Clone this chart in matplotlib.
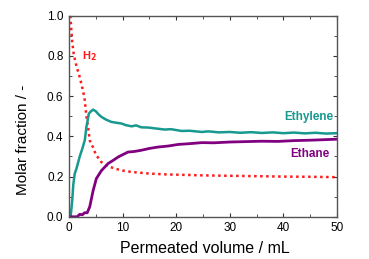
import matplotlib
matplotlib.use('agg')
import matplotlib.pyplot as plt
from matplotlib.ticker import MultipleLocator

plt.rcParams['font.family'] = ['Liberation Sans', 'DejaVu Sans']

# permeated volume (mL) and molar fractions
h2_x = [0.26, 0.4, 0.6, 0.88, 1.2, 1.5, 2.0, 2.5, 2.9, 3.25, 3.55, 3.87, 4.5, 5.0, 6.0,
        7.0, 8.5, 10, 11.7, 15, 18, 25, 30, 35, 40, 45, 50]
h2_y = [1.0, 0.94, 0.87, 0.81, 0.77, 0.74, 0.695, 0.64, 0.59, 0.50, 0.447, 0.38, 0.345,
        0.31, 0.273, 0.255, 0.24, 0.23, 0.223, 0.215, 0.211, 0.206, 0.204, 0.202, 0.200,
        0.199, 0.197]

eth_x = [0.3, 0.6, 0.8, 1.07, 1.4, 2.0, 2.5, 2.94, 3.25, 3.7, 4.1, 4.5, 5.0, 5.5, 6.06, 6.8,
         7.9, 8.8, 9.8, 10.6, 11.7, 12.5, 13.5, 14.8, 16, 17.9, 19, 21, 22.5, 24.8, 26,
         28, 30, 32, 34, 36, 38, 40, 42, 44, 46, 48, 50]
eth_y = [0.0, 0.08, 0.16, 0.215, 0.24, 0.30, 0.34, 0.38, 0.447, 0.513, 0.525, 0.533, 0.525,
         0.51, 0.497, 0.485, 0.472, 0.468, 0.464, 0.456, 0.45, 0.455, 0.445, 0.444, 0.44,
         0.434, 0.436, 0.427, 0.428, 0.422, 0.425, 0.42, 0.422, 0.418, 0.421, 0.417, 0.42,
         0.416, 0.419, 0.415, 0.418, 0.414, 0.416]

ethane_x = [0.3, 1.5, 2.0, 2.5, 2.9, 3.4, 3.87, 4.5, 5.1, 6.06, 7.3, 8.2, 9.2, 10.1, 11.0,
            12.2, 13.5, 15, 16.6, 18.5, 20.4, 22.6, 24.8, 27, 30, 33, 36, 39, 42, 45,
            48, 50]
ethane_y = [0.0, 0.0, 0.012, 0.01, 0.02, 0.02, 0.05, 0.13, 0.19, 0.23, 0.265, 0.28, 0.298,
            0.31, 0.322, 0.325, 0.331, 0.34, 0.347, 0.352, 0.36, 0.364, 0.369, 0.368, 0.372,
            0.374, 0.376, 0.375, 0.379, 0.381, 0.384, 0.386]

teal = '#17998f'
purple = '#800080'
red = '#ff1a1a'

fig = plt.figure(figsize=(3.69, 2.59), dpi=100)
ax = fig.add_axes([0.187, 0.163, 0.726, 0.776])

ax.plot(h2_x, h2_y, color=red, lw=1.8, linestyle=(0, (1, 1.4)))
ax.plot(eth_x, eth_y, color=teal, lw=1.8)
ax.plot(ethane_x, ethane_y, color=purple, lw=2.0)

ax.text(2.4, 0.80, 'H$_\\mathbf{2}$', color=red, fontsize=8, fontweight='bold',
        ha='left', va='center')
ax.text(49.3, 0.497, 'Ethylene', color=teal, fontsize=8.5, fontweight='bold',
        ha='right', va='center')
ax.text(48.6, 0.312, 'Ethane', color=purple, fontsize=8.5, fontweight='bold',
        ha='right', va='center')

ax.set_xlim(0, 50)
ax.set_ylim(0, 1.0)
ax.xaxis.set_major_locator(MultipleLocator(10))
ax.xaxis.set_minor_locator(MultipleLocator(5))
ax.yaxis.set_major_locator(MultipleLocator(0.2))
ax.yaxis.set_minor_locator(MultipleLocator(0.1))
ax.yaxis.set_major_formatter(plt.FuncFormatter(lambda v, p: '%.1f' % v))
ax.tick_params(which='both', direction='in', top=True, right=True, labelsize=8.5,
               color='#333333', pad=4)
ax.tick_params(which='major', length=3)
ax.tick_params(which='minor', length=2)
for s in ax.spines.values():
    s.set_color('#555555')
    s.set_linewidth(1.0)

ax.set_xlabel('Permeated volume / mL', fontsize=11.5, va='top')
ax.xaxis.set_label_coords(0.507, -0.12)
ax.set_ylabel('Molar fraction / -', fontsize=11, ha='center', va='center')
ax.yaxis.set_label_coords(-0.17, 0.385)

fig.savefig('out.png', dpi=100)
